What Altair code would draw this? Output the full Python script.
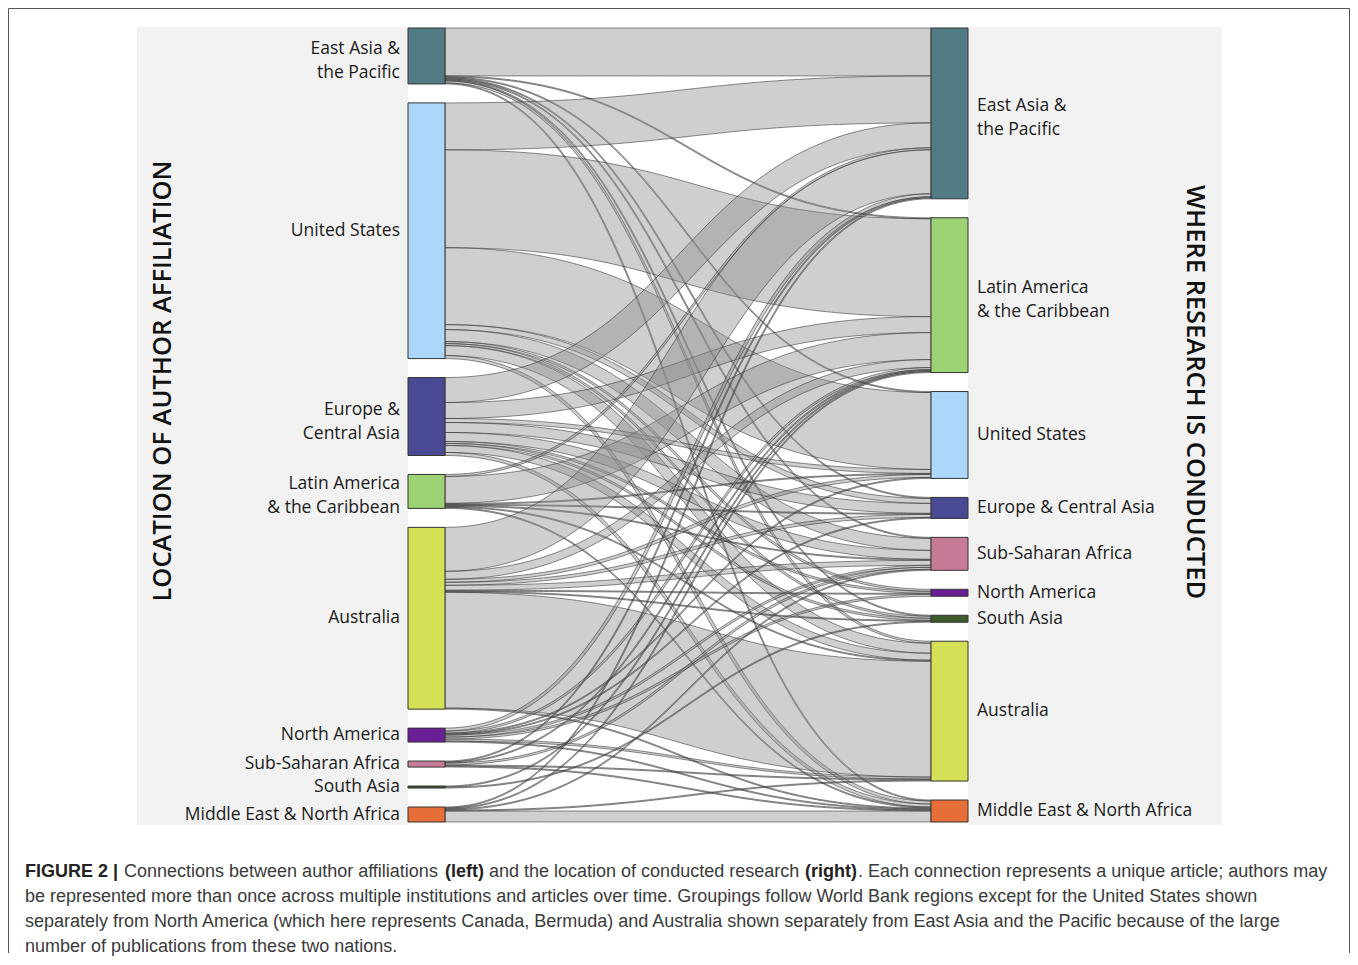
import altair as alt
import pandas as pd
import numpy as np

# ---------------- data ----------------
LEFT_KEYS = ["EAP", "US", "ECA", "LAC", "AUS", "NA", "SSA", "SA", "MENA"]
LEFT_LABELS = ["East Asia &\nthe Pacific", "United States", "Europe &\nCentral Asia",
               "Latin America\n& the Caribbean", "Australia", "North America",
               "Sub-Saharan Africa", "South Asia", "Middle East & North Africa"]
RIGHT_KEYS = ["EAP", "LAC", "US", "ECA", "SSA", "NA", "SA", "AUS", "MENA"]
RIGHT_LABELS = ["East Asia &\nthe Pacific", "Latin America\n& the Caribbean", "United States",
                "Europe & Central Asia", "Sub-Saharan Africa", "North America",
                "South Asia", "Australia", "Middle East & North Africa"]

# articles from each author-affiliation region (rows) to each research region (RIGHT_KEYS order)
FLOW_EAP = [48, 1, 1, 1, 1, 0, 1, 2, 1]
FLOW_US = [47, 98, 77, 5, 12, 2, 2, 10, 3]
FLOW_ECA = [25, 16, 4, 10, 9, 2, 2, 7, 3]
FLOW_LAC = [2, 27, 1, 1, 1, 0, 0, 1, 1]
FLOW_AUS = [44, 8, 3, 3, 5, 1, 1, 116, 1]
FLOW_NA = [3, 2, 1, 1, 2, 2, 0, 2, 1]
FLOW_SSA = [1, 1, 0, 0, 2, 0, 0, 1, 1]
FLOW_SA = [0, 1, 0, 0, 0, 0, 1, 0, 0]
FLOW_MENA = [1, 1, 0, 0, 1, 0, 0, 1, 11]
FLOWS = [FLOW_EAP, FLOW_US, FLOW_ECA, FLOW_LAC, FLOW_AUS, FLOW_NA, FLOW_SSA, FLOW_SA, FLOW_MENA]

COLOR_DOMAIN = ["EAP", "US", "ECA", "LAC", "AUS", "NA", "SSA", "SA", "MENA"]
COLOR_RANGE = ["#517c86", "#acd7fb", "#4a4a94", "#9dd375", "#d4e157",
               "#6a1f96", "#c87a99", "#3d5a2a", "#e66f38"]

CAPTION_REGULAR = [
    ("Connections between author affiliations", 124, 872),
    ("and the location of conducted research", 489, 872),
    (". Each connection represents a unique article; authors may", 858, 872),
    ("be represented more than once across multiple institutions and articles over time. Groupings follow World Bank regions except for the United States shown", 25, 897),
    ("separately from North America (which here represents Canada, Bermuda) and Australia shown separately from East Asia and the Pacific because of the large", 25, 922),
    ("number of publications from these two nations.", 25, 947),
]
CAPTION_BOLD = [
    ("FIGURE 2 |", 25, 872),
    ("(left)", 445, 872),
    ("(right)", 805, 872),
]

# ---------------- layout ----------------
W, H = 1342, 945
XL = 437.0      # plot x of left-node inner edge
XS = 486.0      # distance between left-node inner edge and right-node inner edge
NODE_PX = 37.0
YT, YB = 20.0, 814.0
GAP = 19.0
LINE_H = 24.0

M = np.array(FLOWS, dtype=float)
n = len(LEFT_KEYS)
F = M.sum()
T = F + GAP * (n - 1)
K = (YB - YT) / T
NW = NODE_PX / XS

xs = alt.Scale(domain=[-XL / XS, (W - XL) / XS], nice=False, zero=False)
ys = alt.Scale(domain=[-YT / K, (H - YT) / K], nice=False, zero=False, reverse=True)

out_tot = M.sum(axis=1)
in_tot = M.sum(axis=0)
left_top = np.concatenate([[0], np.cumsum(out_tot + GAP)[:-1]])
right_top = np.concatenate([[0], np.cumsum(in_tot + GAP)[:-1]])

nodes = []
for i, k in enumerate(LEFT_KEYS):
    nodes.append(dict(key=k, label=LEFT_LABELS[i], x0=-NW, x1=0.0,
                      y0=left_top[i], y1=left_top[i] + out_tot[i],
                      ym=left_top[i] + out_tot[i] / 2, side="L"))
for j, k in enumerate(RIGHT_KEYS):
    nodes.append(dict(key=k, label=RIGHT_LABELS[j], x0=1.0, x1=1.0 + NW,
                      y0=right_top[j], y1=right_top[j] + in_tot[j],
                      ym=right_top[j] + in_tot[j] / 2, side="R"))
nodes = pd.DataFrame(nodes)
nodes["lx"] = np.where(nodes.side == "L", -NW - 8 / XS, 1 + NW + 9 / XS)
nlines = nodes["label"].str.count("\n")
nodes["ly"] = nodes["ym"] - nlines * (LINE_H / 2 - 5) / K

# link offsets (outgoing sorted by target order, incoming sorted by source order)
src_off = np.zeros((n, n))
for i in range(n):
    acc = left_top[i]
    for j in range(n):
        src_off[i, j] = acc
        acc += M[i, j]
tgt_off = np.zeros((n, n))
for j in range(n):
    acc = right_top[j]
    for i in range(n):
        tgt_off[i, j] = acc
        acc += M[i, j]

S = np.linspace(0, 1, 90)
rows = []
fid = 0
for i in range(n):
    for j in range(n):
        v = M[i, j]
        if v <= 0:
            continue
        c0 = src_off[i, j] + v / 2
        c1 = tgt_off[i, j] + v / 2
        for s in S:
            x = 1.5 * s * (1 - s) + s ** 3
            h = 3 * s ** 2 - 2 * s ** 3
            c = c0 + (c1 - c0) * h
            dy = (c1 - c0) * K * 6 * s * (1 - s)
            dx = XS * (1.5 - 3 * s + 3 * s ** 2)
            half = (v / 2) * np.sqrt(1 + (dy / dx) ** 2)
            rows.append(dict(fid="f%02d" % fid, x=x, yt=c - half, yb=c + half))
        fid += 1
links = pd.DataFrame(rows)

one = pd.DataFrame({"a": [0]})

panel = alt.Chart(one).mark_rect(fill="#f2f2f2").encode(
    x=alt.value(129), x2=alt.value(1214), y=alt.value(19), y2=alt.value(817))
white = alt.Chart(one).mark_rect(fill="#ffffff").encode(
    x=alt.value(400), x2=alt.value(960), y=alt.value(19), y2=alt.value(817))

ribbons = alt.Chart(links).mark_area(
    fill="#8c8c8c", fillOpacity=0.42, stroke="#2a2a2a", strokeWidth=0.75,
    strokeOpacity=0.72, interpolate="linear"
).encode(
    x=alt.X("x:Q", scale=xs, axis=None),
    y=alt.Y("yt:Q", scale=ys, axis=None),
    y2="yb:Q",
    detail="fid:N",
)

node_rects = alt.Chart(nodes).mark_rect(stroke="#333333", strokeWidth=1).encode(
    x=alt.X("x0:Q", scale=xs, axis=None), x2="x1:Q",
    y=alt.Y("y0:Q", scale=ys, axis=None), y2="y1:Q",
    color=alt.Color("key:N", scale=alt.Scale(domain=COLOR_DOMAIN, range=COLOR_RANGE), legend=None),
)

lab_common = dict(font="Open Sans", fontSize=17.5, color="#1a1a1a", baseline="middle",
                  lineBreak="\n", lineHeight=LINE_H)
left_labels = alt.Chart(nodes[nodes.side == "L"]).mark_text(align="right", **lab_common).encode(
    x=alt.X("lx:Q", scale=xs, axis=None), y=alt.Y("ly:Q", scale=ys, axis=None), text="label:N")
right_labels = alt.Chart(nodes[nodes.side == "R"]).mark_text(align="left", **lab_common).encode(
    x=alt.X("lx:Q", scale=xs, axis=None), y=alt.Y("ly:Q", scale=ys, axis=None), text="label:N")

title_l = alt.Chart(one).mark_text(
    text="LOCATION OF AUTHOR AFFILIATION", angle=270, font="Open Sans", fontSize=25.5,
    fontWeight=600, color="#111111", align="center", baseline="middle"
).encode(x=alt.value(155), y=alt.value(373))
title_r = alt.Chart(one).mark_text(
    text="WHERE RESEARCH IS CONDUCTED", angle=90, font="Open Sans", fontSize=25.5,
    fontWeight=600, color="#111111", align="center", baseline="middle"
).encode(x=alt.value(1187), y=alt.value(384))

cap_reg = pd.DataFrame(CAPTION_REGULAR, columns=["t", "px", "py"])
cap_reg["px"] = cap_reg["px"] - 8
cap_reg["py"] = cap_reg["py"] - 8
cap_bold = pd.DataFrame(CAPTION_BOLD, columns=["t", "px", "py"])
cap_bold["px"] = cap_bold["px"] - 8
cap_bold["py"] = cap_bold["py"] - 8

caption_r = alt.Chart(cap_reg).mark_text(
    font="Liberation Sans", fontSize=18, color="#3a3a3a", align="left", baseline="middle"
).encode(x=alt.X("px:Q", scale=None), y=alt.Y("py:Q", scale=None), text="t:N")
caption_b = alt.Chart(cap_bold).mark_text(
    font="Liberation Sans", fontSize=18, fontWeight="bold", color="#222222", align="left",
    baseline="middle"
).encode(x=alt.X("px:Q", scale=None), y=alt.Y("py:Q", scale=None), text="t:N")

border_top = alt.Chart(one).mark_rule(color="#555555", strokeWidth=1).encode(
    x=alt.value(0.5), x2=alt.value(W - 0.5), y=alt.value(0.5))
border_l = alt.Chart(one).mark_rule(color="#555555", strokeWidth=1).encode(
    x=alt.value(0.5), y=alt.value(0.5), y2=alt.value(H))
border_r = alt.Chart(one).mark_rule(color="#555555", strokeWidth=1).encode(
    x=alt.value(W - 0.5), y=alt.value(0.5), y2=alt.value(H))

chart = alt.layer(
    panel, white, ribbons, node_rects, left_labels, right_labels,
    title_l, title_r, caption_r, caption_b, border_top, border_l, border_r
).properties(width=W, height=H, padding=0).configure_view(stroke=None)

chart.save("out.html", embed_options={"renderer": "svg", "actions": False})
